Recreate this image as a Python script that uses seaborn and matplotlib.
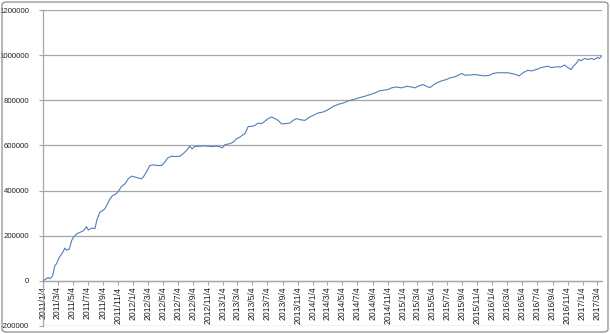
import matplotlib
matplotlib.use("Agg")
import matplotlib.pyplot as plt
from matplotlib.patches import FancyBboxPatch
import seaborn as sns
import pandas as pd

# ---- data ----
dates = [
    "2011-01-04", "2011-01-25", "2011-02-01", "2011-02-12", "2011-02-21", "2011-02-28",
    "2011-03-11", "2011-03-16", "2011-03-25", "2011-04-03", "2011-04-10", "2011-04-21",
    "2011-04-30", "2011-05-07", "2011-05-21", "2011-06-03", "2011-06-17", "2011-06-30",
    "2011-07-07", "2011-07-21", "2011-08-03", "2011-08-12", "2011-08-23", "2011-09-03",
    "2011-09-12", "2011-09-23", "2011-10-03", "2011-10-14", "2011-10-27", "2011-11-06",
    "2011-11-19", "2011-12-03", "2011-12-10", "2011-12-16", "2011-12-30", "2012-01-12",
    "2012-01-26", "2012-02-08", "2012-02-15", "2012-02-29", "2012-03-13", "2012-03-27",
    "2012-04-16", "2012-04-30", "2012-05-13", "2012-05-24", "2012-06-09", "2012-06-23",
    "2012-07-13", "2012-07-26", "2012-08-09", "2012-08-22", "2012-09-01", "2012-09-12",
    "2012-09-25", "2012-10-22", "2012-11-19", "2012-12-16", "2013-01-01", "2013-01-12",
    "2013-02-02", "2013-02-15", "2013-03-01", "2013-03-14", "2013-03-27", "2013-04-03",
    "2013-04-17", "2013-05-01", "2013-05-14", "2013-05-28", "2013-06-10", "2013-06-24",
    "2013-07-07", "2013-07-21", "2013-08-03", "2013-08-16", "2013-08-30", "2013-09-12",
    "2013-10-03", "2013-10-16", "2013-10-30", "2013-11-12", "2013-12-03", "2013-12-23",
    "2014-01-05", "2014-01-26", "2014-02-15", "2014-03-08", "2014-03-28", "2014-04-17",
    "2014-05-08", "2014-05-28", "2014-06-17", "2014-07-08", "2014-07-14", "2014-08-04",
    "2014-08-24", "2014-09-13", "2014-09-30", "2014-10-17", "2014-11-06", "2014-11-20",
    "2014-12-10", "2014-12-31", "2015-01-20", "2015-02-09", "2015-02-23", "2015-03-08",
    "2015-03-28", "2015-04-11", "2015-04-25", "2015-05-08", "2015-05-22", "2015-06-11",
    "2015-07-01", "2015-07-15", "2015-08-04", "2015-08-24", "2015-08-31", "2015-09-14",
    "2015-10-04", "2015-10-24", "2015-11-13", "2015-12-03", "2015-12-24", "2016-01-06",
    "2016-01-26", "2016-02-15", "2016-03-06", "2016-03-20", "2016-04-03", "2016-04-21",
    "2016-05-07", "2016-05-27", "2016-06-10", "2016-06-30", "2016-07-20", "2016-08-03",
    "2016-08-16", "2016-08-30", "2016-09-19", "2016-10-09", "2016-10-23", "2016-11-05",
    "2016-11-19", "2016-11-25", "2016-12-09", "2016-12-20", "2016-12-29", "2017-01-12",
    "2017-01-25", "2017-02-08", "2017-02-21", "2017-03-06", "2017-03-13", "2017-03-23",
]
values = [
    0, 15000, 9000, 22000, 67000, 76000,
    104000, 111000, 126000, 145000, 136000, 141000,
    178000, 192000, 208000, 215000, 222000, 240000,
    225000, 234000, 232000, 274000, 304000, 311000,
    319000, 341000, 363000, 378000, 385000, 397000,
    418000, 430000, 441000, 452000, 464000, 460000,
    456000, 452000, 459000, 484000, 511000, 514000,
    511000, 511000, 526000, 544000, 552000, 551000,
    552000, 563000, 578000, 596000, 585000, 596000,
    596000, 598000, 595000, 597000, 589000, 603000,
    608000, 615000, 630000, 637000, 648000, 652000,
    684000, 684000, 689000, 699000, 696000, 708000,
    719000, 726000, 719000, 711000, 696000, 696000,
    699000, 711000, 719000, 714000, 711000, 726000,
    733000, 744000, 748000, 759000, 773000, 782000,
    788000, 797000, 803000, 810000, 812000, 818000,
    825000, 832000, 841000, 844000, 848000, 855000,
    859000, 855000, 862000, 859000, 855000, 862000,
    870000, 862000, 856000, 867000, 877000, 886000,
    892000, 899000, 904000, 914000, 919000, 911000,
    912000, 914000, 911000, 908000, 911000, 919000,
    922000, 922000, 922000, 919000, 916000, 908000,
    922000, 933000, 930000, 936000, 945000, 948000,
    951000, 945000, 948000, 948000, 956000, 945000,
    936000, 948000, 963000, 981000, 975000, 985000,
    981000, 985000, 981000, 990000, 985000, 996000,
]
tick_labels = [
    "2011/1/4", "2011/3/4", "2011/5/4", "2011/7/4", "2011/9/4", "2011/11/4",
    "2012/1/4", "2012/3/4", "2012/5/4", "2012/7/4", "2012/9/4", "2012/11/4",
    "2013/1/4", "2013/3/4", "2013/5/4", "2013/7/4", "2013/9/4", "2013/11/4",
    "2014/1/4", "2014/3/4", "2014/5/4", "2014/7/4", "2014/9/4", "2014/11/4",
    "2015/1/4", "2015/3/4", "2015/5/4", "2015/7/4", "2015/9/4", "2015/11/4",
    "2016/1/4", "2016/3/4", "2016/5/4", "2016/7/4", "2016/9/4", "2016/11/4",
    "2017/1/4", "2017/3/4",
]
y_ticks = [-200000, 0, 200000, 400000, 600000, 800000, 1000000, 1200000]

df = pd.DataFrame({"date": pd.to_datetime(dates), "value": values})
tick_dates = pd.to_datetime(tick_labels, format="%Y/%m/%d")

sns.set_theme(style="white")
plt.rcParams["font.family"] = ["Liberation Sans", "DejaVu Sans"]

W, H = 610, 334
fig = plt.figure(figsize=(W / 100, H / 100), dpi=100)
ax = fig.add_axes([43 / W, 1 - 326 / H, (602 - 43) / W, (326 - 10) / H])

grid_c = "#a6a6a6"
line_c = "#4f7fba"

for yv in y_ticks:
    ax.axhline(yv, color=grid_c, lw=0.9, zorder=0)

sns.lineplot(data=df, x="date", y="value", ax=ax, color=line_c, lw=0.8, zorder=3)

ax.set_ylim(-200000, 1200000)
ax.set_xlim(pd.Timestamp("2011-01-04"), pd.Timestamp("2017-03-24"))
ax.set_xlabel("")
ax.set_ylabel("")

ax.set_yticks(y_ticks)
ax.set_yticklabels([str(v) for v in y_ticks])
ax.set_xticks(tick_dates)
ax.set_xticklabels(tick_labels)

for s in ["top", "right"]:
    ax.spines[s].set_visible(False)
ax.spines["left"].set_color(grid_c)
ax.spines["left"].set_linewidth(0.9)
ax.spines["bottom"].set_position(("data", 0))
ax.spines["bottom"].set_color(grid_c)
ax.spines["bottom"].set_linewidth(0.9)

ax.tick_params(axis="y", which="both", left=True, length=3, width=0.8,
               color=grid_c, pad=7, labelsize=5.6, labelcolor="#222222")
ax.tick_params(axis="x", which="both", bottom=True, length=3, width=0.8,
               color=grid_c, pad=1, labelsize=6.2, labelcolor="#222222",
               labelrotation=90)
for lab in ax.get_xticklabels():
    lab.set_rotation(90)
    lab.set_ha("center")
    lab.set_va("top")
ax.grid(False)
ax.set_facecolor("white")

border = FancyBboxPatch((2 / W, 2 / H), 1 - 4 / W, 1 - 4 / H,
                        boxstyle="round,pad=0,rounding_size=0.008",
                        transform=fig.transFigure, fill=False,
                        edgecolor="#8c8c8c", lw=0.9)
fig.patches.append(border)

fig.savefig("out.png", dpi=100)
